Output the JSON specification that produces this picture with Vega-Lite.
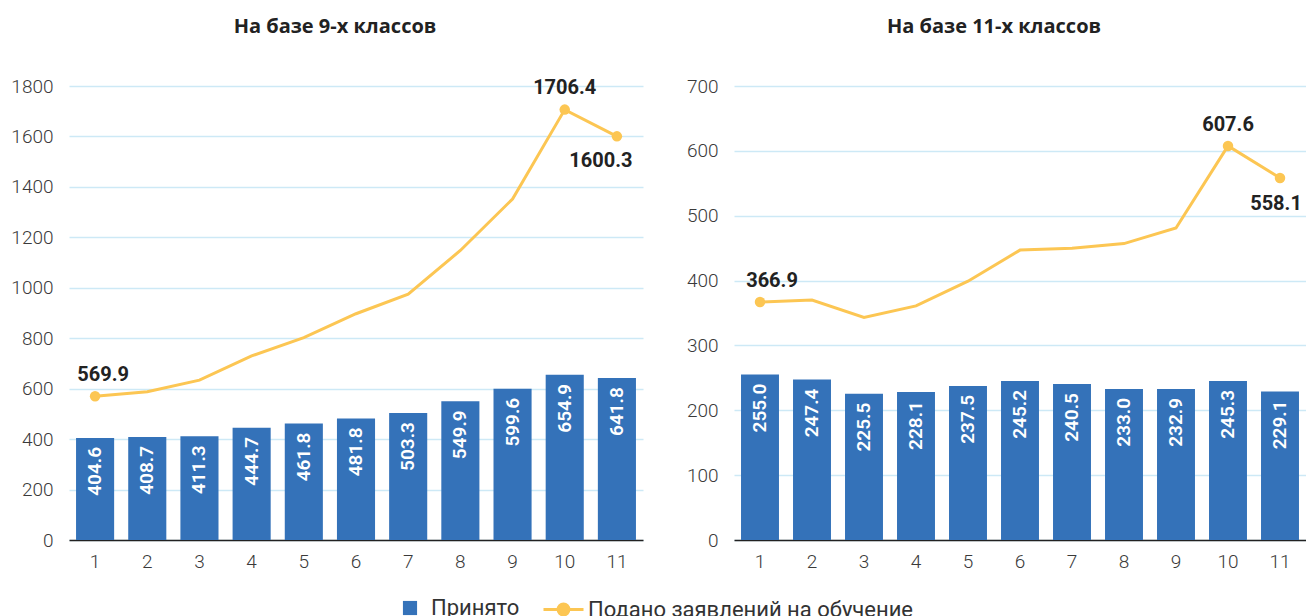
{
  "$schema": "https://vega.github.io/schema/vega-lite/v6.json",
  "padding": {"left": 10, "top": 17, "right": 0, "bottom": 0},
  "autosize": {"type": "pad"},
  "background": "white",
  "spacing": 43,
  "datasets": {
    "s9": [
      {"x": 1, "accepted": 404.6, "applied": 569.9},
      {"x": 2, "accepted": 408.7, "applied": 588},
      {"x": 3, "accepted": 411.3, "applied": 634},
      {"x": 4, "accepted": 444.7, "applied": 730},
      {"x": 5, "accepted": 461.8, "applied": 802},
      {"x": 6, "accepted": 481.8, "applied": 897},
      {"x": 7, "accepted": 503.3, "applied": 975},
      {"x": 8, "accepted": 549.9, "applied": 1148},
      {"x": 9, "accepted": 599.6, "applied": 1352},
      {"x": 10, "accepted": 654.9, "applied": 1706.4},
      {"x": 11, "accepted": 641.8, "applied": 1600.3}
    ],
    "s11": [
      {"x": 1, "accepted": 255.0, "applied": 366.9},
      {"x": 2, "accepted": 247.4, "applied": 370},
      {"x": 3, "accepted": 225.5, "applied": 343},
      {"x": 4, "accepted": 228.1, "applied": 361},
      {"x": 5, "accepted": 237.5, "applied": 399},
      {"x": 6, "accepted": 245.2, "applied": 447},
      {"x": 7, "accepted": 240.5, "applied": 450},
      {"x": 8, "accepted": 233.0, "applied": 457},
      {"x": 9, "accepted": 232.9, "applied": 481},
      {"x": 10, "accepted": 245.3, "applied": 607.6},
      {"x": 11, "accepted": 229.1, "applied": 558.1}
    ]
  },
  "hconcat": [
    {
      "width": 574,
      "height": 454,
      "title": {"text": "На базе 9-х классов", "dx": -21},
      "data": {"name": "s9"},
      "encoding": {
        "x": {"field": "x", "type": "ordinal", "title": null,
              "scale": {"paddingInner": 0.27, "paddingOuter": 0.135}}
      },
      "layer": [
        {
          "mark": {"type": "bar"},
          "encoding": {
            "y": {"field": "accepted", "type": "quantitative", "title": null,
                  "scale": {"domain": [0, 1800], "nice": false},
                  "axis": {"values": [0, 200, 400, 600, 800, 1000, 1200, 1400, 1600, 1800], "format": "d"}},
            "color": {"datum": "Принято", "type": "nominal",
                      "scale": {"range": ["#3472b9"]},
                      "legend": {"title": null, "orient": "none", "legendX": 330, "legendY": 511,
                                 "symbolType": "square", "symbolSize": 200, "labelOffset": 10}}
          }
        },
        {
          "mark": {"type": "text", "angle": 270, "align": "right", "baseline": "middle", "dx": -9,
                   "color": "white", "fontSize": 19, "fontWeight": 600},
          "encoding": {
            "y": {"field": "accepted", "type": "quantitative", "title": null,
                  "axis": {"values": [0, 200, 400, 600, 800, 1000, 1200, 1400, 1600, 1800], "format": "d"}},
            "text": {"field": "accepted", "type": "quantitative", "format": ".1f"}
          }
        },
        {
          "mark": {"type": "line", "strokeWidth": 3},
          "encoding": {
            "y": {"field": "applied", "type": "quantitative", "title": null,
                  "axis": {"values": [0, 200, 400, 600, 800, 1000, 1200, 1400, 1600, 1800], "format": "d"}},
            "stroke": {"datum": "Подано заявлений на обучение", "type": "nominal",
                       "scale": {"range": ["#fcc653"]},
                       "legend": {"title": null, "orient": "none", "legendX": 473, "legendY": 502,
                                  "symbolType": "M-1,0H1M0.27,0A0.27,0.27 0 1,1 -0.27,0A0.27,0.27 0 1,1 0.27,0Z",
                                  "symbolSize": 1600, "symbolStrokeWidth": 3, "labelOffset": 3, "labelLimit": 600,
                                  "encode": {"symbols": {"update": {"fill": {"value": "#fcc653"}, "stroke": {"value": "#fcc653"}}}}}}
          }
        },
        {
          "transform": [{"filter": "datum.x == 1 || datum.x >= 10"}],
          "mark": {"type": "circle", "size": 110, "opacity": 1, "color": "#fcc653"},
          "encoding": {
            "y": {"field": "applied", "type": "quantitative", "title": null,
                  "axis": {"values": [0, 200, 400, 600, 800, 1000, 1200, 1400, 1600, 1800], "format": "d"}}
          }
        },
        {
          "transform": [{"filter": "datum.x == 1"}],
          "mark": {"type": "text", "dy": -21, "dx": 8, "fontSize": 20, "fontWeight": "bold", "color": "#222"},
          "encoding": {
            "y": {"field": "applied", "type": "quantitative", "title": null,
                  "axis": {"values": [0, 200, 400, 600, 800, 1000, 1200, 1400, 1600, 1800], "format": "d"}},
            "text": {"field": "applied", "type": "quantitative", "format": ".1f"}
          }
        },
        {
          "transform": [{"filter": "datum.x == 10"}],
          "mark": {"type": "text", "dy": -22, "fontSize": 20, "fontWeight": "bold", "color": "#222"},
          "encoding": {
            "y": {"field": "applied", "type": "quantitative", "title": null,
                  "axis": {"values": [0, 200, 400, 600, 800, 1000, 1200, 1400, 1600, 1800], "format": "d"}},
            "text": {"field": "applied", "type": "quantitative", "format": ".1f"}
          }
        },
        {
          "transform": [{"filter": "datum.x == 11"}],
          "mark": {"type": "text", "dy": 25, "dx": -16, "fontSize": 20, "fontWeight": "bold", "color": "#222"},
          "encoding": {
            "y": {"field": "applied", "type": "quantitative", "title": null,
                  "axis": {"values": [0, 200, 400, 600, 800, 1000, 1200, 1400, 1600, 1800], "format": "d"}},
            "text": {"field": "applied", "type": "quantitative", "format": ".1f"}
          }
        }
      ]
    },
    {
      "width": 572,
      "height": 454,
      "title": {"text": "На базе 11-х классов", "dx": -26},
      "data": {"name": "s11"},
      "encoding": {
        "x": {"field": "x", "type": "ordinal", "title": null,
              "scale": {"paddingInner": 0.27, "paddingOuter": 0.135}}
      },
      "layer": [
        {
          "mark": {"type": "bar"},
          "encoding": {
            "y": {"field": "accepted", "type": "quantitative", "title": null,
                  "scale": {"domain": [0, 700], "nice": false},
                  "axis": {"values": [0, 100, 200, 300, 400, 500, 600, 700], "format": "d"}},
            "color": {"datum": "Принято", "type": "nominal",
                      "scale": {"range": ["#3472b9"]},
                      "legend": {"title": null, "orient": "none", "legendX": 330, "legendY": 511,
                                 "symbolType": "square", "symbolSize": 200, "labelOffset": 10}}
          }
        },
        {
          "mark": {"type": "text", "angle": 270, "align": "right", "baseline": "middle", "dx": -9,
                   "color": "white", "fontSize": 19, "fontWeight": 600},
          "encoding": {
            "y": {"field": "accepted", "type": "quantitative", "title": null,
                  "axis": {"values": [0, 100, 200, 300, 400, 500, 600, 700], "format": "d"}},
            "text": {"field": "accepted", "type": "quantitative", "format": ".1f"}
          }
        },
        {
          "mark": {"type": "line", "strokeWidth": 3},
          "encoding": {
            "y": {"field": "applied", "type": "quantitative", "title": null,
                  "axis": {"values": [0, 100, 200, 300, 400, 500, 600, 700], "format": "d"}},
            "stroke": {"datum": "Подано заявлений на обучение", "type": "nominal",
                       "scale": {"range": ["#fcc653"]},
                       "legend": {"title": null, "orient": "none", "legendX": 473, "legendY": 502,
                                  "symbolType": "M-1,0H1M0.27,0A0.27,0.27 0 1,1 -0.27,0A0.27,0.27 0 1,1 0.27,0Z",
                                  "symbolSize": 1600, "symbolStrokeWidth": 3, "labelOffset": 3, "labelLimit": 600,
                                  "encode": {"symbols": {"update": {"fill": {"value": "#fcc653"}, "stroke": {"value": "#fcc653"}}}}}}
          }
        },
        {
          "transform": [{"filter": "datum.x == 1 || datum.x >= 10"}],
          "mark": {"type": "circle", "size": 110, "opacity": 1, "color": "#fcc653"},
          "encoding": {
            "y": {"field": "applied", "type": "quantitative", "title": null,
                  "axis": {"values": [0, 100, 200, 300, 400, 500, 600, 700], "format": "d"}}
          }
        },
        {
          "transform": [{"filter": "datum.x == 1"}],
          "mark": {"type": "text", "dy": -21, "dx": 12, "fontSize": 20, "fontWeight": "bold", "color": "#222"},
          "encoding": {
            "y": {"field": "applied", "type": "quantitative", "title": null,
                  "axis": {"values": [0, 100, 200, 300, 400, 500, 600, 700], "format": "d"}},
            "text": {"field": "applied", "type": "quantitative", "format": ".1f"}
          }
        },
        {
          "transform": [{"filter": "datum.x == 10"}],
          "mark": {"type": "text", "dy": -21, "fontSize": 20, "fontWeight": "bold", "color": "#222"},
          "encoding": {
            "y": {"field": "applied", "type": "quantitative", "title": null,
                  "axis": {"values": [0, 100, 200, 300, 400, 500, 600, 700], "format": "d"}},
            "text": {"field": "applied", "type": "quantitative", "format": ".1f"}
          }
        },
        {
          "transform": [{"filter": "datum.x == 11"}],
          "mark": {"type": "text", "dy": 26, "dx": -4, "fontSize": 20, "fontWeight": "bold", "color": "#222"},
          "encoding": {
            "y": {"field": "applied", "type": "quantitative", "title": null,
                  "axis": {"values": [0, 100, 200, 300, 400, 500, 600, 700], "format": "d"}},
            "text": {"field": "applied", "type": "quantitative", "format": ".1f"}
          }
        }
      ]
    }
  ],
  "resolve": {"scale": {"x": "independent", "y": "independent", "color": "shared", "stroke": "shared"}},
  "config": {
    "font": "Roboto",
    "view": {"stroke": null},
    "title": {"font": "Open Sans", "fontSize": 20, "fontWeight": "bold", "color": "#222", "offset": 40, "anchor": "middle"},
    "axis": {"labelFont": "Roboto", "labelFontSize": 19, "labelColor": "#3a3a3a", "labelFontWeight": 300},
    "axisX": {"labelAngle": 0, "ticks": false, "domain": true, "domainColor": "#222", "domainWidth": 1.5,
              "grid": false, "labelPadding": 12},
    "axisY": {"ticks": false, "domain": false, "grid": true, "gridColor": "#cde9f6", "gridWidth": 1.5,
              "labelPadding": 16},
    "legend": {"labelFont": "Roboto", "labelFontSize": 22, "labelColor": "#333", "labelFontWeight": 400}
  }
}
